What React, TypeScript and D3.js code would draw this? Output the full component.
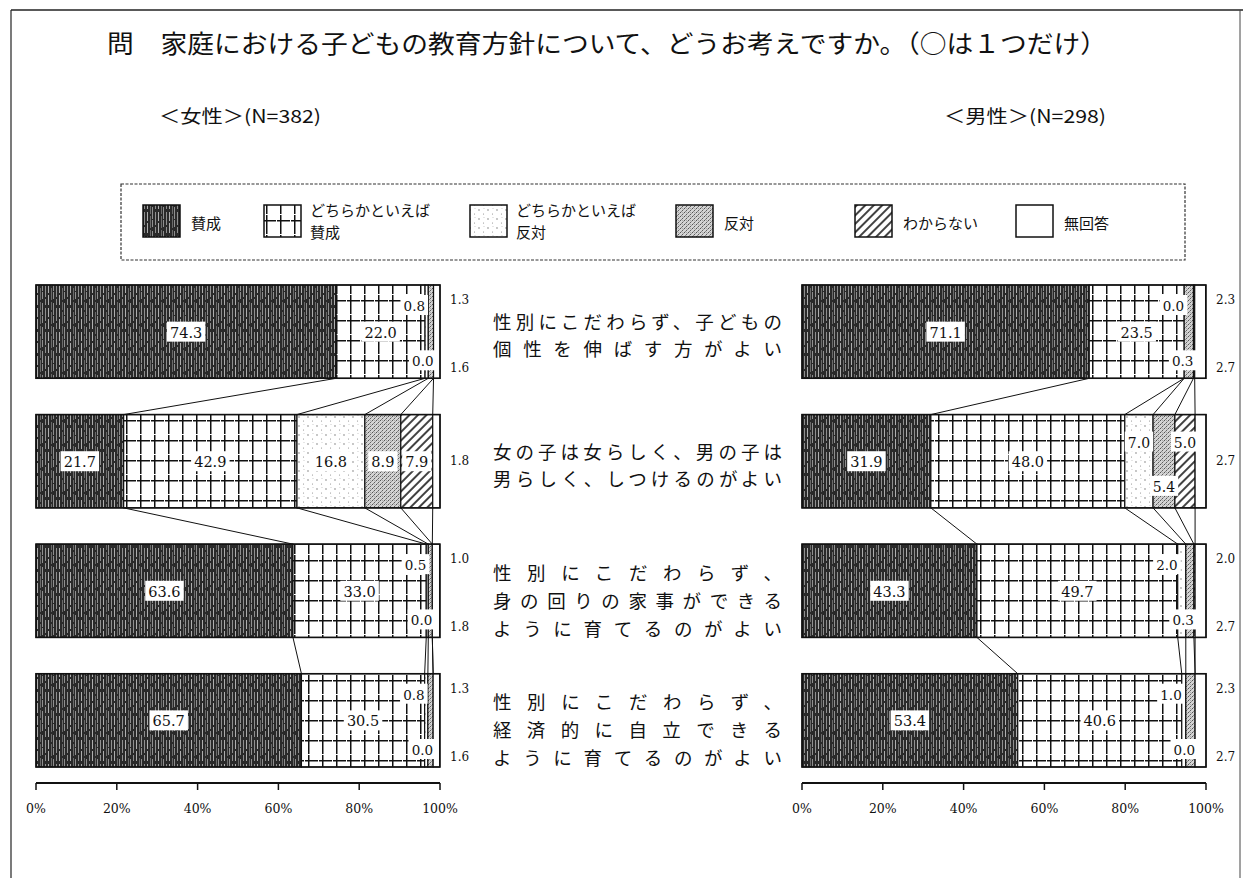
import React, { useEffect } from 'react';
import * as d3 from 'd3';

// ---------- data ----------
const titleText = '問　家庭における子どもの教育方針について、どうお考えですか。（○は１つだけ）';
const femaleTitle = '＜女性＞(N=382)';
const maleTitle = '＜男性＞(N=298)';

const categories = ['個性', 'らしさ', '家事', '自立'];
const categoryLines = [
  ['性別にこだわらず、子どもの', '個性を伸ばす方がよい'],
  ['女の子は女らしく、男の子は', '男らしく、しつけるのがよい'],
  ['性別にこだわらず、', '身の回りの家事ができる', 'ように育てるのがよい'],
  ['性別にこだわらず、', '経済的に自立できる', 'ように育てるのがよい'],
];

const responses = ['賛成', 'どちらかといえば賛成', 'どちらかといえば反対', '反対', 'わからない', '無回答'];
const legendLines = [['賛成'], ['どちらかといえば', '賛成'], ['どちらかといえば', '反対'], ['反対'], ['わからない'], ['無回答']];

const femaleValues = [
  [74.3, 22.0, 0.8, 1.3, 0.0, 1.6],
  [21.7, 42.9, 16.8, 8.9, 7.9, 1.8],
  [63.6, 33.0, 0.5, 1.0, 0.0, 1.8],
  [65.7, 30.5, 0.8, 1.3, 0.0, 1.6],
];
const maleValues = [
  [71.1, 23.5, 0.0, 2.3, 0.3, 2.7],
  [31.9, 48.0, 7.0, 5.4, 5.0, 2.7],
  [43.3, 49.7, 2.0, 2.0, 0.3, 2.7],
  [53.4, 40.6, 1.0, 2.3, 0.0, 2.7],
];
const tickValues = [0, 20, 40, 60, 80, 100];

// ---------- layout / style (not data) ----------
const smallRow = ['c', 'c', 'tl', 'ot', 'bl', 'ob'];
const femaleLabelPos = [smallRow, ['c', 'c', 'c', 'c', 'c', 'om'], smallRow, smallRow];
const maleLabelPos = [smallRow, ['c', 'c', 'ct', 'cb', 'ct', 'om'], smallRow, smallRow];
const patternIds = ['pSansei', 'pYaSansei', 'pYaHantai', 'pHantai', 'pWakaranai', 'pMukaitou'];
const legendX = [143, 264, 470, 676, 855, 1016];

const SANS = "'Noto Sans CJK JP', 'Noto Sans', sans-serif";
const SERIF = "'DejaVu Serif', 'Liberation Serif', serif";

const yBand = d3.scaleBand<string>().domain(categories).range([285, 767]).paddingInner(0.28).paddingOuter(0);

function Patterns() {
  return (
    <defs>
      <pattern id="pSansei" width="11" height="24" patternUnits="userSpaceOnUse">
        <rect width="11" height="24" fill="#2a2a2a" />
        <line x1="1.5" y1="0" x2="1.5" y2="24" stroke="#8f8f8f" strokeWidth="1" strokeDasharray="9 2 6 3 4" />
        <line x1="4.5" y1="0" x2="4.5" y2="24" stroke="#bdbdbd" strokeWidth="0.9" strokeDasharray="5 2 10 3 4" />
        <line x1="7.5" y1="0" x2="7.5" y2="24" stroke="#6a6a6a" strokeWidth="1" strokeDasharray="12 2 8 2" />
        <line x1="9.5" y1="0" x2="9.5" y2="24" stroke="#a8a8a8" strokeWidth="0.8" strokeDasharray="3 1 7 4 9" />
      </pattern>
      <pattern id="pYaSansei" width="14" height="20" patternUnits="userSpaceOnUse">
        <rect width="14" height="20" fill="#fff" />
        <line x1="0.75" y1="0" x2="0.75" y2="20" stroke="#111" strokeWidth="1.5" strokeDasharray="14 1 5" />
        <line x1="0" y1="0.75" x2="14" y2="0.75" stroke="#111" strokeWidth="1.5" strokeDasharray="10 1 3" />
      </pattern>
      <pattern id="pYaHantai" width="9" height="9" patternUnits="userSpaceOnUse">
        <rect width="9" height="9" fill="#fff" />
        <circle cx="2" cy="3" r="0.7" fill="#666" />
        <circle cx="6.5" cy="7" r="0.55" fill="#888" />
        <circle cx="7" cy="1.5" r="0.45" fill="#999" />
      </pattern>
      <pattern id="pHantai" width="4" height="4" patternUnits="userSpaceOnUse">
        <rect width="4" height="4" fill="#d4d4d4" />
        <rect x="0" y="0" width="1" height="1" fill="#555" />
        <rect x="2" y="2" width="1" height="1" fill="#5e5e5e" />
        <rect x="1" y="3" width="1" height="1" fill="#888" />
        <rect x="3" y="1" width="1" height="1" fill="#999" />
        <rect x="2" y="0" width="1" height="1" fill="#aaa" />
      </pattern>
      <pattern id="pWakaranai" width="6" height="6" patternUnits="userSpaceOnUse" patternTransform="rotate(45)">
        <rect width="6" height="6" fill="#fff" />
        <line x1="1" y1="0" x2="1" y2="6" stroke="#111" strokeWidth="1.6" />
      </pattern>
      <pattern id="pMukaitou" width="4" height="4" patternUnits="userSpaceOnUse">
        <rect width="4" height="4" fill="#fff" />
      </pattern>
    </defs>
  );
}

function labelWidth(s: string, fs: number) {
  let w = 0;
  for (const ch of s) w += ch === '.' ? fs * 0.32 : fs * 0.64;
  return w;
}

function Panel({ values, range, labelPos }: { values: number[][]; range: [number, number]; labelPos: string[][] }) {
  const x = d3.scaleLinear().domain([0, 100]).range(range);
  const bw = yBand.bandwidth();
  const rows = values.map((vals) => Array.from(d3.cumsum([0, ...vals])) as number[]);
  const barEnd = x(100);
  const axisY = 783;

  return (
    <g>
      {/* connectors */}
      {categories.slice(0, -1).map((c, i) => {
        const yA = (yBand(c) as number) + bw;
        const yB = yBand(categories[i + 1]) as number;
        return [1, 2, 3, 4, 5].map((k) => (
          <line key={`cn${i}-${k}`} x1={x(rows[i][k])} y1={yA} x2={x(rows[i + 1][k])} y2={yB} stroke="#111" strokeWidth="1" />
        ));
      })}
      {/* bars */}
      {categories.map((c, i) => {
        const top = yBand(c) as number;
        const vals = values[i];
        const cum = rows[i];
        return (
          <g key={`bar${i}`}>
            {vals.map((v, j) =>
              v > 0 ? (
                <rect key={j} x={x(cum[j])} y={top} width={x(cum[j] + v) - x(cum[j])} height={bw}
                  fill={`url(#${patternIds[j]})`} stroke="#111" strokeWidth="1.2" />
              ) : null
            )}
            <rect x={x(0)} y={top} width={x(100) - x(0)} height={bw} fill="none" stroke="#111" strokeWidth="1.5" />
          </g>
        );
      })}
      {/* labels */}
      {categories.map((c, i) => {
        const top = yBand(c) as number;
        const bottom = top + bw;
        const vals = values[i];
        const cum = rows[i];
        return vals.map((v, j) => {
          const s = v.toFixed(1);
          const pos = labelPos[i][j];
          const x0 = x(cum[j]);
          const x1 = x(cum[j] + v);
          if (pos.startsWith('o')) {
            const ty = pos === 'ot' ? top + 15 : pos === 'ob' ? bottom - 10 : top + bw / 2;
            return (
              <text key={`l${i}-${j}`} x={barEnd + 10} y={ty} fontFamily={SERIF} fontSize="12" fill="#111" dominantBaseline="central">{s}</text>
            );
          }
          let fs = 14.5;
          let cx: number, cy: number, anchor: 'middle' | 'end' = 'middle';
          if (pos === 'c') { cx = (x0 + x1) / 2; cy = top + bw / 2; }
          else if (pos === 'ct') { cx = (x0 + x1) / 2; cy = top + 27; fs = 14; }
          else if (pos === 'cb') { cx = (x0 + x1) / 2; cy = bottom - 22; fs = 14; }
          else if (pos === 'tl') { cx = x0 + 2; cy = top + 20; anchor = 'end'; fs = 13.5; }
          else { cx = x0 + 2; cy = bottom - 18; anchor = 'end'; fs = 13.5; }
          const w = labelWidth(s, fs) + 6;
          const bx = anchor === 'middle' ? cx - w / 2 : cx - w + 1;
          return (
            <g key={`l${i}-${j}`}>
              <rect x={bx} y={cy - 10} width={w} height={20} fill="#fff" />
              <text x={anchor === 'middle' ? cx : cx - 2} y={cy + 1} textAnchor={anchor} fontFamily={SERIF} fontSize={fs} fill="#111" dominantBaseline="central">{s}</text>
            </g>
          );
        });
      })}
      {/* axis */}
      <line x1={x(0)} y1={axisY} x2={x(100)} y2={axisY} stroke="#111" strokeWidth="2" />
      {tickValues.map((t) => (
        <g key={`t${t}`}>
          <line x1={x(t)} y1={axisY} x2={x(t)} y2={axisY + 7} stroke="#111" strokeWidth="1.5" />
          <text x={x(t)} y={axisY + 25} textAnchor="middle" fontFamily={SERIF} fontSize="12.5" fill="#111" dominantBaseline="central">{`${t}%`}</text>
        </g>
      ))}
    </g>
  );
}

function Legend() {
  return (
    <g>
      <rect x={121} y={184} width={1064} height={76} fill="none" stroke="#333" strokeWidth="1.2" strokeDasharray="3 1.5" />
      {responses.map((r, i) => {
        const sx = legendX[i];
        const lines = legendLines[i];
        return (
          <g key={r}>
            <rect x={sx} y={205} width={37} height={32} fill={`url(#${patternIds[i]})`} stroke="#111" strokeWidth="1.5" />
            {lines.length === 1 ? (
              <text x={sx + 48} y={222} fontFamily={SANS} fontSize="15" fill="#111" dominantBaseline="central">{lines[0]}</text>
            ) : (
              lines.map((ln, k) => (
                <text key={k} x={sx + 46} y={209 + k * 22} fontFamily={SANS} fontSize="15" fill="#111" dominantBaseline="central">{ln}</text>
              ))
            )}
          </g>
        );
      })}
    </g>
  );
}

function CategoryLabels() {
  const bw = yBand.bandwidth();
  return (
    <g>
      {categories.map((c, i) => {
        const lines = categoryLines[i];
        const center = (yBand(c) as number) + bw / 2;
        const gap = lines.length === 2 ? 27 : 28;
        const off = lines.length === 2 ? 3 : 9;
        const start = center + off - (gap * (lines.length - 1)) / 2;
        return lines.map((ln, k) => (
          <text key={`${i}-${k}`} x={493} y={start + k * gap} fontFamily={SANS} fontSize="18.5" fill="#111"
            dominantBaseline="central" textLength={289} lengthAdjust="spacing">{ln}</text>
        ));
      })}
    </g>
  );
}

export default function App() {
  useEffect(() => {
    document.body.style.margin = '0';
  }, []);
  return (
    <svg width={1243} height={878} viewBox="0 0 1243 878" style={{ position: 'absolute', left: 0, top: 0, background: '#fff' }}>
      <Patterns />
      <rect x={0} y={0} width={1243} height={878} fill="#fff" />
      {/* frame */}
      <line x1={11} y1={10} x2={1243} y2={10} stroke="#222" strokeWidth="1.5" />
      <line x1={11} y1={10} x2={11} y2={878} stroke="#222" strokeWidth="1.2" />
      <line x1={1240} y1={10} x2={1240} y2={878} stroke="#444" strokeWidth="1" />
      <text x={107} y={42} fontFamily={SANS} fontSize="25" fill="#111" dominantBaseline="central" textLength={1000} lengthAdjust="spacingAndGlyphs">{titleText}</text>
      <text x={159} y={115} fontFamily={SANS} fontSize="18" fill="#111" dominantBaseline="central" textLength={162} lengthAdjust="spacingAndGlyphs">{femaleTitle}</text>
      <text x={944} y={115} fontFamily={SANS} fontSize="18" fill="#111" dominantBaseline="central" textLength={162} lengthAdjust="spacingAndGlyphs">{maleTitle}</text>
      <Legend />
      <Panel values={femaleValues} range={[36, 440]} labelPos={femaleLabelPos} />
      <Panel values={maleValues} range={[802, 1206]} labelPos={maleLabelPos} />
      <CategoryLabels />
    </svg>
  );
}
